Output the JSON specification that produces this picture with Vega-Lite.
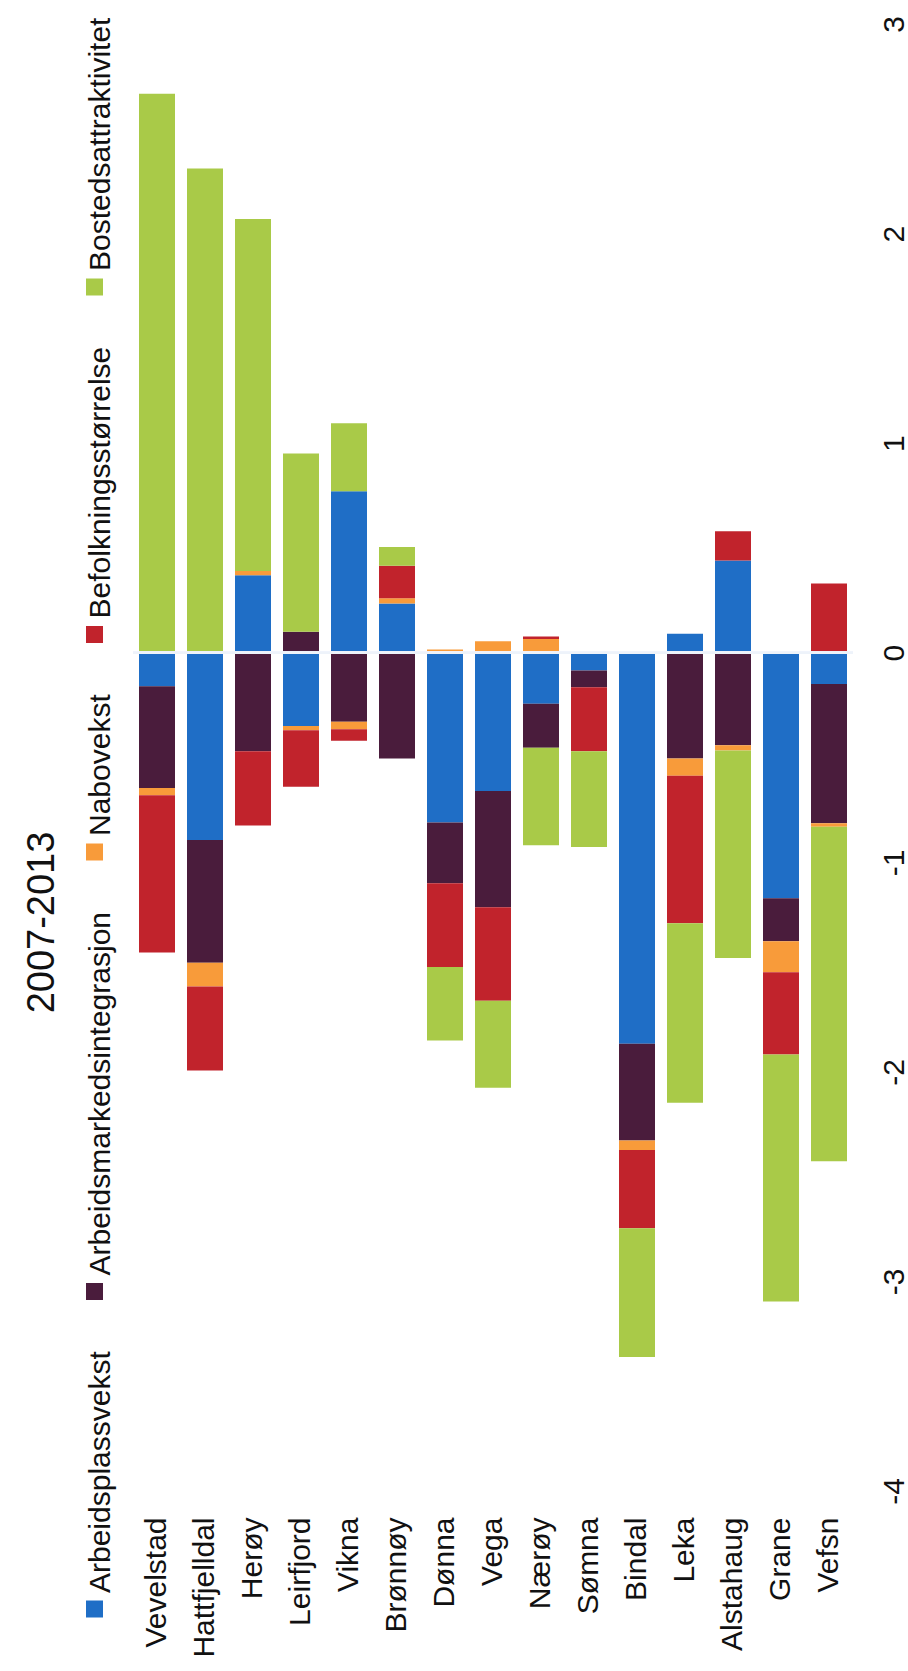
{
  "$schema": "https://vega.github.io/schema/vega-lite/v6.json",
  "autosize": {"type": "none"},
  "width": 720,
  "height": 1467,
  "padding": {"left": 133, "top": 24, "right": 55, "bottom": 180},
  "background": "white",
  "title": {
    "text": "2007-2013",
    "orient": "left",
    "anchor": "middle",
    "frame": "group",
    "fontSize": 38,
    "fontWeight": "normal",
    "color": "#111111",
    "offset": 18,
    "dx": -165
  },
  "config": {
    "font": "Liberation Sans",
    "view": {"stroke": null},
    "axis": {"grid": false, "domain": false, "ticks": false, "title": null, "labelColor": "#111111"}
  },
  "data": {
    "values": [
      {"k": "Vevelstad", "s": "Arbeidsplassvekst", "o": 0, "v": -0.16},
      {"k": "Vevelstad", "s": "Arbeidsmarkedsintegrasjon", "o": 1, "v": -0.486},
      {"k": "Vevelstad", "s": "Nabovekst", "o": 2, "v": -0.034},
      {"k": "Vevelstad", "s": "Befolkningsstørrelse", "o": 3, "v": -0.75},
      {"k": "Vevelstad", "s": "Bostedsattraktivitet", "o": 4, "v": 2.667},
      {"k": "Hattfjelldal", "s": "Arbeidsplassvekst", "o": 0, "v": -0.894},
      {"k": "Hattfjelldal", "s": "Arbeidsmarkedsintegrasjon", "o": 1, "v": -0.585},
      {"k": "Hattfjelldal", "s": "Nabovekst", "o": 2, "v": -0.114},
      {"k": "Hattfjelldal", "s": "Befolkningsstørrelse", "o": 3, "v": -0.40},
      {"k": "Hattfjelldal", "s": "Bostedsattraktivitet", "o": 4, "v": 2.31},
      {"k": "Herøy", "s": "Arbeidsplassvekst", "o": 0, "v": 0.37},
      {"k": "Herøy", "s": "Arbeidsmarkedsintegrasjon", "o": 1, "v": -0.47},
      {"k": "Herøy", "s": "Nabovekst", "o": 2, "v": 0.02},
      {"k": "Herøy", "s": "Befolkningsstørrelse", "o": 3, "v": -0.355},
      {"k": "Herøy", "s": "Bostedsattraktivitet", "o": 4, "v": 1.68},
      {"k": "Leirfjord", "s": "Arbeidsplassvekst", "o": 0, "v": -0.35},
      {"k": "Leirfjord", "s": "Arbeidsmarkedsintegrasjon", "o": 1, "v": 0.10},
      {"k": "Leirfjord", "s": "Nabovekst", "o": 2, "v": -0.02},
      {"k": "Leirfjord", "s": "Befolkningsstørrelse", "o": 3, "v": -0.27},
      {"k": "Leirfjord", "s": "Bostedsattraktivitet", "o": 4, "v": 0.85},
      {"k": "Vikna", "s": "Arbeidsplassvekst", "o": 0, "v": 0.77},
      {"k": "Vikna", "s": "Arbeidsmarkedsintegrasjon", "o": 1, "v": -0.33},
      {"k": "Vikna", "s": "Nabovekst", "o": 2, "v": -0.035},
      {"k": "Vikna", "s": "Befolkningsstørrelse", "o": 3, "v": -0.055},
      {"k": "Vikna", "s": "Bostedsattraktivitet", "o": 4, "v": 0.325},
      {"k": "Brønnøy", "s": "Arbeidsplassvekst", "o": 0, "v": 0.235},
      {"k": "Brønnøy", "s": "Arbeidsmarkedsintegrasjon", "o": 1, "v": -0.505},
      {"k": "Brønnøy", "s": "Nabovekst", "o": 2, "v": 0.025},
      {"k": "Brønnøy", "s": "Befolkningsstørrelse", "o": 3, "v": 0.155},
      {"k": "Brønnøy", "s": "Bostedsattraktivitet", "o": 4, "v": 0.09},
      {"k": "Dønna", "s": "Arbeidsplassvekst", "o": 0, "v": -0.81},
      {"k": "Dønna", "s": "Arbeidsmarkedsintegrasjon", "o": 1, "v": -0.29},
      {"k": "Dønna", "s": "Nabovekst", "o": 2, "v": 0.015},
      {"k": "Dønna", "s": "Befolkningsstørrelse", "o": 3, "v": -0.40},
      {"k": "Dønna", "s": "Bostedsattraktivitet", "o": 4, "v": -0.35},
      {"k": "Vega", "s": "Arbeidsplassvekst", "o": 0, "v": -0.66},
      {"k": "Vega", "s": "Arbeidsmarkedsintegrasjon", "o": 1, "v": -0.555},
      {"k": "Vega", "s": "Nabovekst", "o": 2, "v": 0.055},
      {"k": "Vega", "s": "Befolkningsstørrelse", "o": 3, "v": -0.446},
      {"k": "Vega", "s": "Bostedsattraktivitet", "o": 4, "v": -0.415},
      {"k": "Nærøy", "s": "Arbeidsplassvekst", "o": 0, "v": -0.243},
      {"k": "Nærøy", "s": "Arbeidsmarkedsintegrasjon", "o": 1, "v": -0.21},
      {"k": "Nærøy", "s": "Nabovekst", "o": 2, "v": 0.065},
      {"k": "Nærøy", "s": "Befolkningsstørrelse", "o": 3, "v": 0.012},
      {"k": "Nærøy", "s": "Bostedsattraktivitet", "o": 4, "v": -0.466},
      {"k": "Sømna", "s": "Arbeidsplassvekst", "o": 0, "v": -0.085},
      {"k": "Sømna", "s": "Arbeidsmarkedsintegrasjon", "o": 1, "v": -0.08},
      {"k": "Sømna", "s": "Nabovekst", "o": 2, "v": 0},
      {"k": "Sømna", "s": "Befolkningsstørrelse", "o": 3, "v": -0.305},
      {"k": "Sømna", "s": "Bostedsattraktivitet", "o": 4, "v": -0.457},
      {"k": "Bindal", "s": "Arbeidsplassvekst", "o": 0, "v": -1.866},
      {"k": "Bindal", "s": "Arbeidsmarkedsintegrasjon", "o": 1, "v": -0.462},
      {"k": "Bindal", "s": "Nabovekst", "o": 2, "v": -0.045},
      {"k": "Bindal", "s": "Befolkningsstørrelse", "o": 3, "v": -0.373},
      {"k": "Bindal", "s": "Bostedsattraktivitet", "o": 4, "v": -0.615},
      {"k": "Leka", "s": "Arbeidsplassvekst", "o": 0, "v": 0.09},
      {"k": "Leka", "s": "Arbeidsmarkedsintegrasjon", "o": 1, "v": -0.505},
      {"k": "Leka", "s": "Nabovekst", "o": 2, "v": -0.082},
      {"k": "Leka", "s": "Befolkningsstørrelse", "o": 3, "v": -0.704},
      {"k": "Leka", "s": "Bostedsattraktivitet", "o": 4, "v": -0.856},
      {"k": "Alstahaug", "s": "Arbeidsplassvekst", "o": 0, "v": 0.44},
      {"k": "Alstahaug", "s": "Arbeidsmarkedsintegrasjon", "o": 1, "v": -0.442},
      {"k": "Alstahaug", "s": "Nabovekst", "o": 2, "v": -0.025},
      {"k": "Alstahaug", "s": "Befolkningsstørrelse", "o": 3, "v": 0.14},
      {"k": "Alstahaug", "s": "Bostedsattraktivitet", "o": 4, "v": -0.99},
      {"k": "Grane", "s": "Arbeidsplassvekst", "o": 0, "v": -1.172},
      {"k": "Grane", "s": "Arbeidsmarkedsintegrasjon", "o": 1, "v": -0.205},
      {"k": "Grane", "s": "Nabovekst", "o": 2, "v": -0.148},
      {"k": "Grane", "s": "Befolkningsstørrelse", "o": 3, "v": -0.392},
      {"k": "Grane", "s": "Bostedsattraktivitet", "o": 4, "v": -1.179},
      {"k": "Vefsn", "s": "Arbeidsplassvekst", "o": 0, "v": -0.149},
      {"k": "Vefsn", "s": "Arbeidsmarkedsintegrasjon", "o": 1, "v": -0.665},
      {"k": "Vefsn", "s": "Nabovekst", "o": 2, "v": -0.017},
      {"k": "Vefsn", "s": "Befolkningsstørrelse", "o": 3, "v": 0.33},
      {"k": "Vefsn", "s": "Bostedsattraktivitet", "o": 4, "v": -1.596}
    ]
  },
  "layer": [
    {
      "mark": {"type": "bar"},
      "encoding": {
        "x": {
          "field": "k",
          "type": "nominal",
          "sort": null,
          "scale": {"paddingInner": 0.25, "paddingOuter": 0.125},
          "axis": {"orient": "bottom", "labelAngle": -90, "labelAlign": "right", "labelBaseline": "middle", "labelFontSize": 30, "labelPadding": 26, "labelLimit": 400}
        },
        "y": {
          "field": "v",
          "type": "quantitative",
          "stack": "zero",
          "scale": {"domain": [-4, 3], "nice": false, "zero": false},
          "axis": {"orient": "right", "values": [-4, -3, -2, -1, 0, 1, 2, 3], "labelExpr": "'' + datum.value", "labelAngle": -90, "labelAlign": "center", "labelBaseline": "top", "labelFontSize": 30, "labelPadding": 26, "labelFlush": false, "labelOverlap": false}
        },
        "color": {
          "field": "s",
          "type": "nominal",
          "scale": {
            "domain": ["Bostedsattraktivitet", "Befolkningsstørrelse", "Nabovekst", "Arbeidsmarkedsintegrasjon", "Arbeidsplassvekst"],
            "range": ["#a9ca48", "#c1232c", "#f89b3a", "#4a1c3c", "#1f6ec6"]
          },
          "legend": {
            "title": null,
            "orient": "none",
            "legendX": -53.5,
            "legendY": 248,
            "direction": "vertical",
            "padding": 0,
            "labelFontSize": 30,
            "labelColor": "#111111",
            "labelLimit": 1000,
            "labelAlign": "left",
            "labelBaseline": "middle",
            "labelOffset": -8.5,
            "symbolType": "square",
            "symbolSize": 289,
            "symbolStrokeWidth": 0,
            "rowPadding": 50.5,
            "encode": {"labels": {"update": {"angle": {"value": -90}, "dx": {"value": 16}}}}
          }
        },
        "order": {"field": "o", "type": "quantitative"}
      }
    },
    {
      "mark": {"type": "rule", "color": "#eef3fa", "strokeWidth": 2},
      "encoding": {"y": {"datum": 0}}
    }
  ]
}
